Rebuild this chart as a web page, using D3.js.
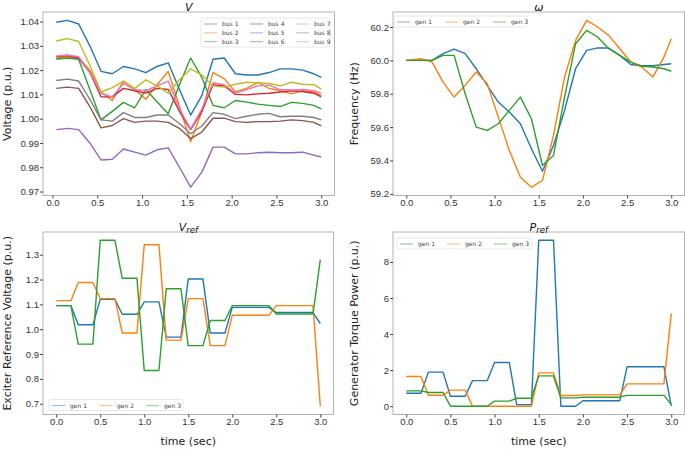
<!DOCTYPE html>
<html>
<head>
<meta charset="utf-8">
<script src="https://cdn.jsdelivr.net/npm/d3@7"></script>
<style>
  body { margin: 0; background: #fff; }
  svg { font-family: "DejaVu Sans", sans-serif; }
</style>
</head>
<body>
<div id="chart"></div>
<script>
// time samples
var tV = [0.042, 0.167, 0.292, 0.417, 0.542, 0.667, 0.792, 0.917, 1.042, 1.167, 1.292, 1.417, 1.542,
          1.667, 1.792, 1.917, 2.042, 2.167, 2.292, 2.417, 2.542, 2.667, 2.792, 2.917, 3.0];
var tW = [0.0, 0.167, 0.292, 0.417, 0.542, 0.667, 0.792, 0.917, 1.042, 1.167, 1.292, 1.417, 1.542,
          1.667, 1.792, 1.917, 2.042, 2.167, 2.292, 2.417, 2.542, 2.667, 2.792, 2.917, 3.0];
var tStep = [0, 0.167, 0.25, 0.417, 0.5, 0.667, 0.75, 0.917, 1.0, 1.167, 1.25, 1.417, 1.5,
             1.667, 1.75, 1.917, 2.0, 2.167, 2.25, 2.417, 2.5, 2.667, 2.75, 2.917, 3.0];

// bus voltages (p.u.)
var bus1 = [1.0397,1.0405,1.039,1.030,1.0195,1.0185,1.0215,1.0205,1.019,1.0215,1.023,1.012,1.0015,1.0095,1.0245,1.025,1.0185,1.018,1.018,1.019,1.0205,1.0205,1.020,1.0185,1.017];
var bus2 = [1.025,1.0255,1.025,1.020,1.011,1.0075,1.0155,1.012,1.008,1.014,1.0195,1.005,0.9905,1.003,1.019,1.0165,1.011,1.0125,1.015,1.0125,1.0115,1.0102,1.0115,1.011,1.0095];
var bus3 = [1.0245,1.025,1.0245,1.012,0.9995,1.003,1.0067,1.0045,1.012,1.007,1.002,1.014,1.025,1.017,1.0055,1.0045,1.0075,1.0068,1.006,1.0055,1.005,1.0067,1.0063,1.0055,1.004];
var bus4 = [1.0255,1.026,1.025,1.019,1.009,1.009,1.0125,1.0115,1.0105,1.0125,1.012,1.003,0.9955,1.003,1.014,1.0135,1.010,1.0098,1.0102,1.0105,1.011,1.0115,1.0112,1.0105,1.009];
var bus5 = [0.9955,0.996,0.9955,0.990,0.983,0.9833,0.9875,0.9862,0.985,0.9872,0.988,0.980,0.9718,0.978,0.9883,0.9883,0.9855,0.9855,0.986,0.9862,0.986,0.986,0.9862,0.985,0.9842];
var bus6 = [1.0125,1.013,1.0125,1.005,0.9962,0.9972,1.0,0.9985,0.999,0.999,0.9985,0.996,0.9918,0.9945,1.0002,1.0002,0.9988,0.9985,0.9988,0.9988,0.999,0.9995,0.9992,0.9985,0.997];
var bus7 = [1.0258,1.0262,1.0255,1.019,1.0105,1.009,1.0145,1.012,1.0115,1.0135,1.0155,1.004,0.9958,1.004,1.0148,1.014,1.0105,1.012,1.0135,1.0138,1.012,1.0118,1.012,1.0115,1.0105];
var bus8 = [1.0157,1.0163,1.0155,1.008,0.9995,0.999,1.0025,1.0005,1.0005,1.0015,1.0015,0.998,0.9938,0.997,1.0025,1.0018,1.0,1.001,1.0018,1.0022,1.0008,1.001,1.001,1.0005,0.9995];
var bus9 = [1.032,1.033,1.0318,1.022,1.011,1.0128,1.0155,1.0125,1.016,1.0135,1.0105,1.016,1.0205,1.018,1.0135,1.013,1.0142,1.015,1.0148,1.0145,1.0135,1.015,1.0142,1.014,1.0122];

// generator frequency (Hz)
var w1 = [60.0,60.0,60.0,60.04,60.068,60.04,59.95,59.85,59.75,59.69,59.62,59.47,59.335,59.49,59.7,59.95,60.06,60.075,60.074,60.03,59.975,59.968,59.968,59.975,59.98];
var w2 = [60.0,60.01,59.99,59.87,59.78,59.85,59.93,59.86,59.66,59.46,59.3,59.24,59.28,59.55,59.9,60.12,60.24,60.2,60.15,60.07,59.99,59.96,59.9,60.02,60.13];
var w3 = [60.0,60.0,60.0,60.03,60.03,59.8,59.6,59.58,59.62,59.7,59.78,59.65,59.37,59.43,59.78,60.1,60.18,60.14,60.07,60.03,59.99,59.965,59.96,59.95,59.935];

// exciter reference voltage (p.u.)
var vref1 = [1.095,1.095,1.018,1.018,1.12,1.12,1.06,1.06,1.11,1.11,0.968,0.968,1.202,1.202,0.985,0.985,1.088,1.088,1.088,1.088,1.067,1.067,1.067,1.067,1.023];
var vref2 = [1.115,1.115,1.188,1.188,1.123,1.123,0.985,0.985,1.34,1.34,0.956,0.956,1.123,1.123,0.934,0.934,1.056,1.056,1.056,1.056,1.095,1.095,1.095,1.095,0.69];
var vref3 = [1.095,1.095,0.94,0.94,1.358,1.358,1.205,1.205,0.834,0.834,1.163,1.163,0.934,0.934,1.035,1.035,1.095,1.095,1.095,1.095,1.061,1.061,1.061,1.061,1.28];

// generator torque power (p.u.)
var pref1 = [0.72,0.72,1.89,1.89,0.55,0.55,1.42,1.42,2.42,2.42,0.09,0.09,9.2,9.2,0.0,0.0,0.3,0.3,0.3,0.3,2.19,2.19,2.19,2.19,0.0];
var pref2 = [1.65,1.65,0.61,0.61,0.89,0.89,0.0,0.0,0.0,0.0,0.0,0.0,1.85,1.85,0.59,0.59,0.63,0.63,0.63,0.63,1.24,1.24,1.24,1.24,5.15];
var pref3 = [0.85,0.85,0.76,0.76,0.0,0.0,0.0,0.0,0.28,0.28,0.44,0.44,1.68,1.68,0.46,0.46,0.5,0.5,0.5,0.5,0.6,0.6,0.6,0.6,0.09];

var busNames = ["bus 1", "bus 2", "bus 3", "bus 4", "bus 5", "bus 6", "bus 7", "bus 8", "bus 9"];
var genNames = ["gen 1", "gen 2", "gen 3"];

var xTicks = [0, 0.5, 1.0, 1.5, 2.0, 2.5, 3.0];
var vTicks = [0.97, 0.98, 0.99, 1.00, 1.01, 1.02, 1.03, 1.04];
var wTicks = [59.2, 59.4, 59.6, 59.8, 60.0, 60.2];
var vrefTicks = [0.7, 0.8, 0.9, 1.0, 1.1, 1.2, 1.3];
var prefTicks = [0, 2, 4, 6, 8];

var colors = ["#1f77b4", "#ff7f0e", "#2ca02c", "#d62728", "#9467bd", "#8c564b", "#e377c2", "#7f7f7f", "#bcbd22"];

var svg = d3.select("#chart").append("svg")
  .attr("width", 685)
  .attr("height", 449);

function padded(ext) {
  var d = (ext[1] - ext[0]) * 0.05;
  return [ext[0] - d, ext[1] + d];
}

function drawPanel(cfg) {
  var b = cfg.box;
  var allY = [].concat.apply([], cfg.series);
  var x = d3.scaleLinear().domain(padded(d3.extent(cfg.times))).range([b.x0, b.x1]);
  var y = d3.scaleLinear().domain(padded(d3.extent(allY))).range([b.y1, b.y0]);

  var g = svg.append("g");

  // lines
  var line = d3.line()
    .x(function(d, i) { return x(cfg.times[i]); })
    .y(function(d) { return y(d); });

  g.selectAll("path.series")
    .data(cfg.series)
    .enter()
    .append("path")
    .attr("class", "series")
    .attr("d", line)
    .attr("fill", "none")
    .attr("stroke", function(d, i) { return colors[i]; })
    .attr("stroke-width", 1.4)
    .attr("stroke-linejoin", "round");

  // frame
  g.append("rect")
    .attr("x", b.x0).attr("y", b.y0)
    .attr("width", b.x1 - b.x0).attr("height", b.y1 - b.y0)
    .attr("fill", "none")
    .attr("stroke", "#b3b3b3")
    .attr("stroke-width", 1);

  // axes
  var xa = g.append("g")
    .attr("transform", "translate(0," + b.y1 + ")")
    .call(d3.axisBottom(x).tickValues(xTicks).tickFormat(d3.format(".1f")).tickSize(3).tickPadding(1));
  var ya = g.append("g")
    .attr("transform", "translate(" + b.x0 + ",0)")
    .call(d3.axisLeft(y).tickValues(cfg.yTicks).tickFormat(d3.format(cfg.yFmt)).tickSize(3).tickPadding(1));
  [xa, ya].forEach(function(a) {
    a.select(".domain").remove();
    a.selectAll("line").attr("stroke", "#444");
    a.selectAll("text").attr("fill", "#333").style("font-size", "9.5px");
  });

  // y label
  g.append("text")
    .attr("transform", "translate(" + cfg.yLabelX + "," + ((b.y0 + b.y1) / 2) + ") rotate(-90)")
    .attr("text-anchor", "middle")
    .attr("fill", "#222")
    .style("font-size", "11px")
    .text(cfg.yLabel);

  if (cfg.xLabel) {
    g.append("text")
      .attr("x", (b.x0 + b.x1) / 2)
      .attr("y", 445)
      .attr("text-anchor", "middle")
      .attr("fill", "#222")
      .style("font-size", "11px")
      .text(cfg.xLabel);
  }

  // title
  var title = g.append("text")
    .attr("x", (b.x0 + b.x1) / 2)
    .attr("y", b.y0 - 1.5)
    .attr("text-anchor", "middle")
    .attr("fill", "#111")
    .style("font-size", "11px")
    .style("font-style", "italic");
  title.append("tspan").text(cfg.title);
  if (cfg.sub) {
    title.append("tspan").attr("dy", 2.5).style("font-size", "8.5px").text(cfg.sub);
  }

  // legend
  var L = cfg.legend;
  var lg = g.append("g");
  lg.append("rect")
    .attr("x", L.x).attr("y", L.y)
    .attr("width", L.w).attr("height", L.h)
    .attr("rx", 1.5)
    .attr("fill", "#fff")
    .attr("fill-opacity", 0.85)
    .attr("stroke", "#e0e0e0")
    .attr("stroke-width", 0.8);
  var items = lg.selectAll("g.item")
    .data(cfg.names)
    .enter()
    .append("g")
    .attr("class", "item")
    .attr("transform", function(d, i) {
      var c = Math.floor(i / L.rows), r = i % L.rows;
      return "translate(" + (L.x + 3 + c * L.colW) + "," + (L.y + 6 + r * L.rowH) + ")";
    });
  items.append("line")
    .attr("x1", 0).attr("x2", 13)
    .attr("stroke", function(d, i) { return colors[i]; })
    .attr("stroke-opacity", 0.45)
    .attr("stroke-width", 1.3);
  items.append("text")
    .attr("x", 18)
    .attr("dy", "0.35em")
    .attr("fill", "#444")
    .style("font-size", "6px")
    .text(function(d) { return d; });
}

drawPanel({
  box: {x0: 43, x1: 334.5, y0: 12, y1: 195.5},
  times: tV,
  series: [bus1, bus2, bus3, bus4, bus5, bus6, bus7, bus8, bus9],
  names: busNames,
  yTicks: vTicks, yFmt: ".2f",
  yLabel: "Voltage (p.u.)", yLabelX: 10.5,
  title: "V",
  legend: {x: 201, y: 18, w: 129, h: 29, rows: 3, rowH: 8.8, colW: 46}
});

drawPanel({
  box: {x0: 393, x1: 684.5, y0: 12, y1: 195.5},
  times: tW,
  series: [w1, w2, w3],
  names: genNames,
  yTicks: wTicks, yFmt: ".1f",
  yLabel: "Frequency (Hz)", yLabelX: 358,
  title: "\u03c9",
  legend: {x: 394, y: 16, w: 133, h: 11, rows: 1, rowH: 0, colW: 48}
});

drawPanel({
  box: {x0: 43, x1: 333.5, y0: 232, y1: 414.5},
  times: tStep,
  series: [vref1, vref2, vref3],
  names: genNames,
  yTicks: vrefTicks, yFmt: ".1f",
  yLabel: "Exciter Reference Voltage (p.u.)", yLabelX: 10.5,
  xLabel: "time (sec)",
  title: "V", sub: "ref",
  legend: {x: 49, y: 399.5, w: 134, h: 11, rows: 1, rowH: 0, colW: 47}
});

drawPanel({
  box: {x0: 393, x1: 684.5, y0: 232, y1: 414.5},
  times: tStep,
  series: [pref1, pref2, pref3],
  names: genNames,
  yTicks: prefTicks, yFmt: "d",
  yLabel: "Generator Torque Power (p.u.)", yLabelX: 358,
  xLabel: "time (sec)",
  title: "P", sub: "ref",
  legend: {x: 397, y: 238, w: 135, h: 11, rows: 1, rowH: 0, colW: 47}
});
</script>
</body>
</html>
